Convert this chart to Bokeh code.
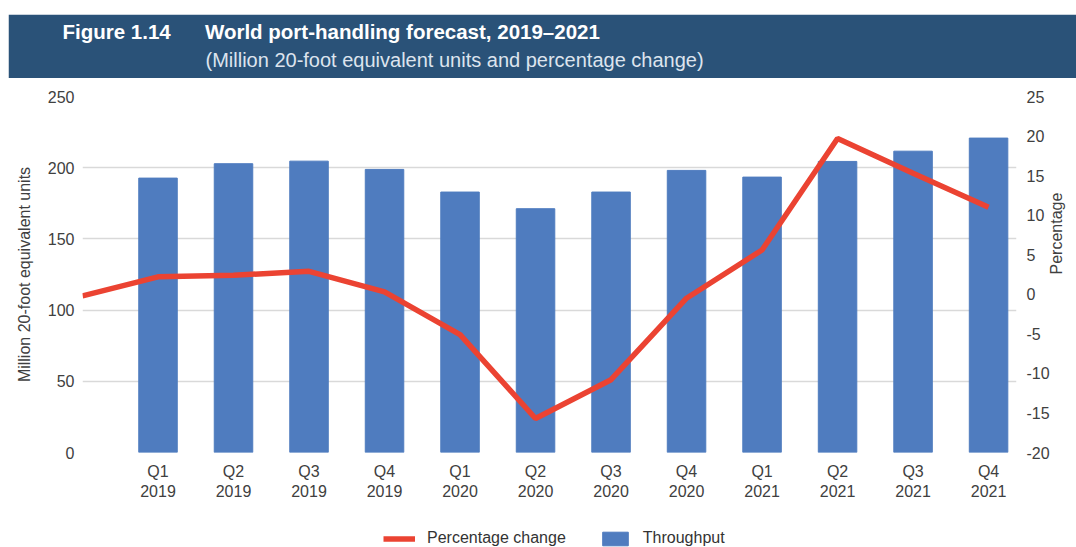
import math
from bokeh.plotting import figure
from bokeh.models import (Range1d, LinearAxis, FixedTicker, Legend, LegendItem,
                          Title, Spacer)
from bokeh.layouts import column, row
from bokeh.embed import file_html
from bokeh.resources import INLINE

# ---- data ----
quarters = ["Q1", "Q2", "Q3", "Q4", "Q1", "Q2", "Q3", "Q4", "Q1", "Q2", "Q3", "Q4"]
years = ["2019"] * 4 + ["2020"] * 4 + ["2021"] * 4
throughput = [192.7, 202.8, 204.6, 198.8, 182.9, 171.2, 182.9, 198.1, 193.4, 204.4, 211.6, 220.8]
pct_prior = -0.2          # Q4 2018 (line starts at the left edge)
pct_change = [2.2, 2.4, 2.9, 0.3, -5.1, -15.7, -10.8, -0.5, 5.6, 19.7, 15.3, 11.0]
left_ticks = [0, 50, 100, 150, 200, 250]
right_ticks = [-20, -15, -10, -5, 0, 5, 10, 15, 20, 25]

title_fig = "Figure 1.14"
title_main = "World port-handling forecast, 2019\u20132021"
subtitle = "(Million 20-foot equivalent units and percentage change)"
y_label = "Million 20-foot equivalent units"
y2_label = "Percentage"
legend_labels = ["Percentage change", "Throughput"]

FONT = "Liberation Sans"
BAR = "#4f7cbf"
RED = "#eb4332"
HEAD = "#2a5278"
TXT = "#404040"

W, H = 1076, 547

# ---- header band ----
head = figure(width=W - 8, height=64, output_backend="svg", toolbar_location=None,
              x_axis_type=None, y_axis_type=None, title=None,
              x_range=Range1d(0, 1), y_range=Range1d(0, 1),
              min_border_left=74, min_border_right=56, min_border_top=64, min_border_bottom=0)
head.border_fill_color = HEAD
head.background_fill_color = HEAD
head.outline_line_color = None
head.xgrid.visible = False
head.ygrid.visible = False
head.add_layout(Title(text=subtitle, align="left", offset=123, standoff=12,
                      vertical_align="top",
                      text_font=FONT, text_font_size="20px", text_font_style="normal",
                      text_color="#dde4ee"), "above")
head.add_layout(Title(text=title_fig + "\u00a0" * 6 + title_main, align="left", offset=-20,
                      standoff=0, text_font=FONT, text_font_size="20.5px",
                      text_font_style="bold", text_color="white"), "above")

# ---- main chart ----
n = len(throughput)
xs = list(range(n))
p = figure(width=W, height=424, x_range=Range1d(-1.0, 11.37), y_range=Range1d(0, 250),
           output_backend="svg", toolbar_location=None,
           min_border_left=82, min_border_right=56, min_border_top=8, min_border_bottom=60)
p.outline_line_color = None
p.xgrid.visible = False
p.ygrid.grid_line_color = "#d9d9d9"
p.ygrid.grid_line_width = 1.3

bars = p.vbar(x=xs, top=throughput, width=0.51, color=BAR)
p.extra_y_ranges = {"pct": Range1d(-20, 25)}
line = p.line(x=[-1] + xs, y=[pct_prior] + pct_change, y_range_name="pct",
              color=RED, line_width=5.5)

def style(ax):
    ax.axis_line_color = None
    ax.major_tick_line_color = None
    ax.minor_tick_line_color = None
    ax.major_tick_out = 0
    ax.major_tick_in = 0
    ax.minor_tick_out = 0
    ax.minor_tick_in = 0
    ax.major_label_text_font = FONT
    ax.major_label_text_font_size = "16px"
    ax.major_label_text_color = TXT

xa = p.below[0]
xa.ticker = FixedTicker(ticks=xs)
xa.major_label_overrides = {i: f"{q}\n{y}" for i, (q, y) in enumerate(zip(quarters, years))}
xa.major_label_standoff = 10
style(xa)

ya = p.left[0]
ya.ticker = FixedTicker(ticks=left_ticks)
ya.major_label_standoff = 8
ya.axis_label = y_label
ya.axis_label_standoff = 12
ya.axis_label_text_font = FONT
ya.axis_label_text_font_size = "16px"
ya.axis_label_text_font_style = "normal"
ya.axis_label_text_color = TXT
style(ya)

ya2 = LinearAxis(y_range_name="pct", ticker=FixedTicker(ticks=right_ticks))
ya2.major_label_overrides = {t: str(t) for t in right_ticks}
ya2.major_label_standoff = 10
ya2.axis_label = y2_label
ya2.axis_label_standoff = 4
ya2.axis_label_orientation = math.pi / 2
ya2.axis_label_text_font = FONT
ya2.axis_label_text_font_size = "16px"
ya2.axis_label_text_font_style = "normal"
ya2.axis_label_text_color = TXT
style(ya2)
p.add_layout(ya2, "right")

# ---- legend strip (same series styles; placeholder renderers hold no visible data) ----
lf = figure(width=W, height=35, output_backend="svg", toolbar_location=None,
            x_axis_type=None, y_axis_type=None, title=None,
            x_range=Range1d(0, 1), y_range=Range1d(0, 1),
            min_border_left=82, min_border_right=56, min_border_top=0, min_border_bottom=0)
lf.outline_line_color = None
lf.xgrid.visible = False
lf.ygrid.visible = False
nan = float("nan")
leg_line = lf.line(x=[nan], y=[nan], color=RED, line_width=5.5)
leg_bar = lf.vbar(x=[nan], top=[nan], width=0.51, color=BAR)
legend = Legend(items=[LegendItem(label=legend_labels[0], renderers=[leg_line]),
                       LegendItem(label=legend_labels[1], renderers=[leg_bar])],
                orientation="horizontal", location=(301, 0), padding=0, margin=0,
                spacing=33, glyph_width=32, glyph_height=17, label_height=17,
                label_standoff=12, border_line_color=None, background_fill_alpha=0,
                label_text_font=FONT, label_text_font_size="16px",
                label_text_color="#333333")
lf.add_layout(legend)

layout = column(Spacer(width=W, height=14), row(Spacer(width=8, height=64), head),
                Spacer(width=W, height=10), p, lf)
open("out.html", "w").write(file_html(layout, INLINE))
